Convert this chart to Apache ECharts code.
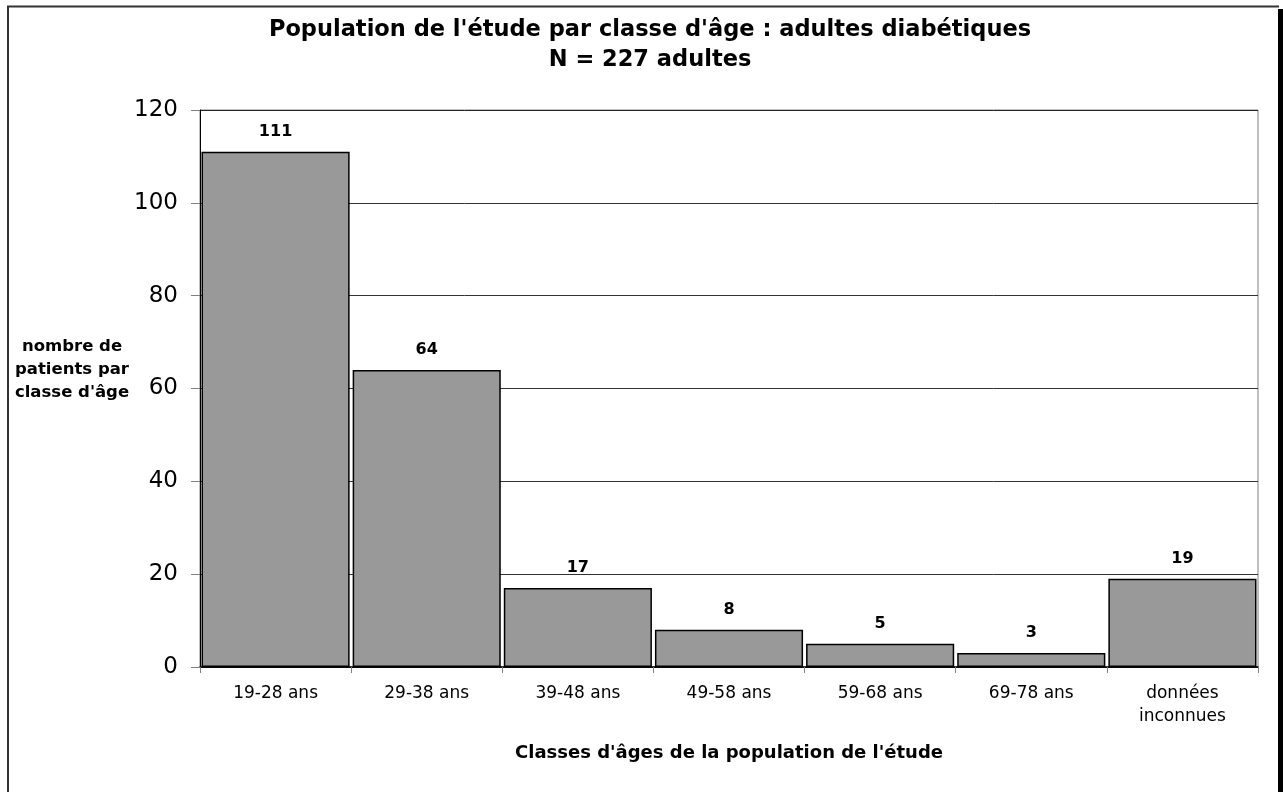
<!DOCTYPE html>
<html>
<head>
<meta charset="utf-8">
<script src="https://cdn.jsdelivr.net/npm/echarts@6/dist/echarts.min.js"></script>
<style>
  html, body { margin: 0; padding: 0; background: #fff; }
  #main { width: 1283px; height: 792px; }
</style>
</head>
<body>
<div id="main"></div>
<script>
var categories = ['19-28 ans', '29-38 ans', '39-48 ans', '49-58 ans', '59-68 ans', '69-78 ans', 'données\ninconnues'];
var patients = [111, 64, 17, 8, 5, 3, 19];
var yTicks = [0, 20, 40, 60, 80, 100, 120];

var myChart = echarts.init(document.getElementById('main'));

// police large, comme dans l'image
var font = 'DejaVu Sans, Verdana, sans-serif';

var option = {
    backgroundColor: '#fff',
    animation: false,
    title: {
        text: "Population de l'étude par classe d'âge : adultes diabétiques\nN = 227 adultes",
        left: 645,
        textAlign: 'center',
        top: 10,
        textStyle: {
            fontFamily: font,
            fontSize: 22.5,
            fontWeight: 'bold',
            color: '#000',
            lineHeight: 30
        }
    },
    grid: {
        left: 200,
        right: 25,
        top: 110,
        bottom: 125,
        show: true,
        borderColor: '#808080',
        borderWidth: 1
    },
    xAxis: {
        type: 'category',
        data: categories,
        name: "Classes d'âges de la population de l'étude",
        nameLocation: 'middle',
        nameGap: 77,
        nameTextStyle: { fontFamily: font, fontSize: 18, fontWeight: 'bold', color: '#000' },
        axisLine: { lineStyle: { color: '#000', width: 1.5 } },
        axisTick: { show: true, alignWithLabel: false, length: 6, lineStyle: { color: '#808080' } },
        axisLabel: { fontFamily: font, fontSize: 17, color: '#000', margin: 15, lineHeight: 23, interval: 0 }
    },
    yAxis: {
        type: 'value',
        min: yTicks[0],
        max: yTicks[yTicks.length - 1],
        interval: 20,
        axisLine: { show: true, lineStyle: { color: '#000', width: 1 } },
        axisTick: { show: true, length: 9, lineStyle: { color: '#808080' } },
        axisLabel: { fontFamily: font, fontSize: 23, color: '#000', margin: 22 },
        splitLine: { lineStyle: { color: '#000', width: 1, opacity: 0.8 } }
    },
    series: [{
        type: 'bar',
        data: patients,
        barCategoryGap: '2%',
        itemStyle: { color: '#999999', borderColor: '#000', borderWidth: 1.5 },
        label: {
            show: true,
            position: 'top',
            distance: 12,
            fontFamily: font,
            fontSize: 16,
            fontWeight: 'bold',
            color: '#000'
        }
    }],
    graphic: [
        {
            type: 'text',
            x: 72,
            y: 335,
            style: {
                text: "nombre de\npatients par\nclasse d'âge",
                font: 'bold 16.5px ' + font,
                fill: '#000',
                align: 'center',
                verticalAlign: 'top',
                lineHeight: 23
            }
        },
        {
            type: 'polyline',
            shape: { points: [[8, 792], [8, 6.5], [1279, 6.5]] },
            style: { stroke: '#333', lineWidth: 2, fill: null }
        },
        {
            type: 'rect',
            shape: { x: 1278, y: 9, width: 5, height: 783 },
            style: { fill: '#000' }
        }
    ]
};

myChart.setOption(option);
</script>
</body>
</html>
